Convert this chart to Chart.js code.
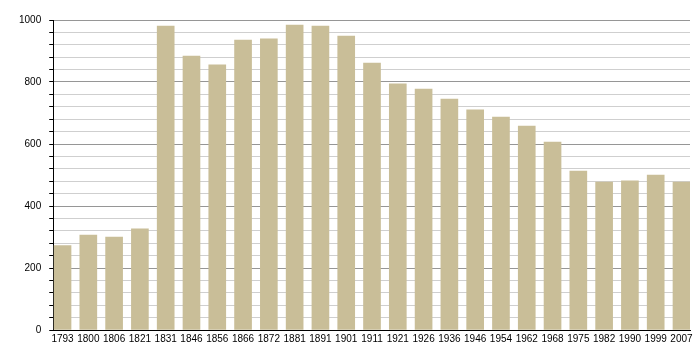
<!DOCTYPE html>
<html>
<head>
<meta charset="utf-8">
<script src="https://cdn.jsdelivr.net/npm/chart.js@4"></script>
<style>
  body { margin: 0; background: #fff; }
  #wrap { width: 700px; height: 360px; }
</style>
</head>
<body>
<div id="wrap"><canvas id="popChart"></canvas></div>
<script>
const years = ['1793','1800','1806','1821','1831','1846','1856','1866','1872','1881','1891','1901','1911','1921','1926','1936','1946','1954','1962','1968','1975','1982','1990','1999','2007'];
const population = [272, 306, 300, 326, 980, 884, 855, 935, 939, 984, 980, 948, 861, 794, 777, 745, 710, 687, 658, 606, 513, 477, 481, 500, 477];
const yTicks = [0, 200, 400, 600, 800, 1000];

const points = years.map((y, i) => ({ x: i, y: population[i] }));
const font = { family: 'Liberation Sans, Arial, sans-serif', size: 10 };

const ctx = document.getElementById('popChart').getContext('2d');
const popChart = new Chart(ctx, {
    type: 'bar',
    data: {
        datasets: [{
            data: points,
            backgroundColor: '#c9be98',
            barThickness: 17
        }]
    },
    options: {
        responsive: true,
        maintainAspectRatio: false,
        animation: false,
        layout: { padding: { left: 11, right: 10, top: 20, bottom: 12 } },
        plugins: {
            legend: { display: false },
            tooltip: { enabled: false }
        },
        scales: {
            x: {
                type: 'linear',
                offset: false,
                min: -0.36,
                max: 24.33,
                afterBuildTicks: axis => { axis.ticks = years.map((y, i) => ({ value: i })); },
                ticks: {
                    autoSkip: false,
                    maxRotation: 0,
                    padding: 3,
                    color: '#000',
                    font: font,
                    callback: v => years[v]
                },
                grid: { display: false, drawTicks: false },
                border: { display: true, color: '#000', width: 1 }
            },
            y: {
                min: 0,
                max: 1000,
                ticks: {
                    stepSize: 40,
                    autoSkip: false,
                    padding: 8,
                    color: '#000',
                    font: font,
                    callback: v => yTicks.includes(v) ? v : ''
                },
                grid: {
                    color: c => (c.tick && c.tick.value % 200 === 0) ? '#969696' : '#cfcfcf',
                    tickColor: '#000',
                    tickLength: 4,
                    lineWidth: 1
                },
                border: { display: true, color: '#000', width: 1 }
            }
        }
    }
});
</script>
</body>
</html>
